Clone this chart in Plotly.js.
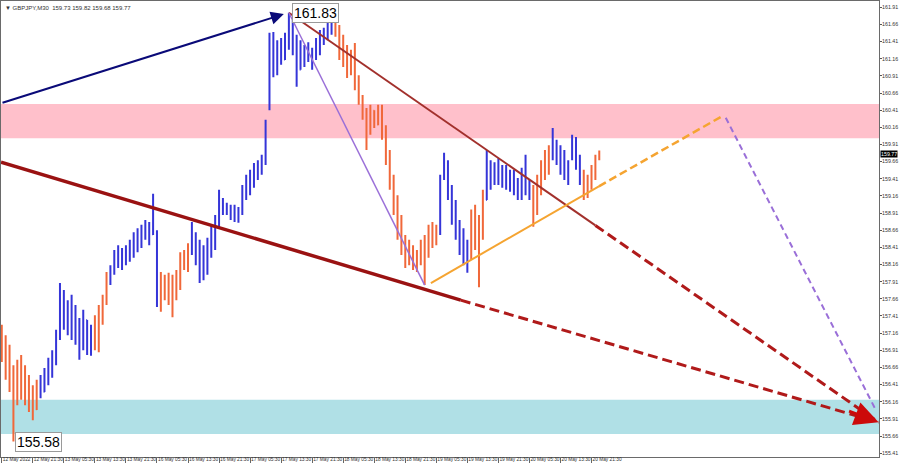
<!DOCTYPE html>
<html>
<head>
<meta charset="utf-8">
<script src="https://cdn.plot.ly/plotly-3.0.1.min.js"></script>
<style>
  html, body { margin: 0; padding: 0; background: #ffffff; }
  #chart { width: 900px; height: 468px; }
</style>
</head>
<body>
<div id="chart"></div>
<script>
// GBPJPY, 30-minute bars, 12 May 2022 - 20 May 2022 (bar index on the x axis)
const symbol = 'GBPJPY,M30';

const open = [
  157.20,156.85,156.62,156.45,156.20,156.55,156.30,156.50,156.15,156.05,
  156.38,156.30,156.58,156.70,156.85,157.10,157.70,157.35,157.55,157.20,
  157.30,156.95,157.35,157.00,157.15,157.00,157.40,157.60,157.95,158.05,
  158.30,158.20,158.35,158.25,158.45,158.55,158.62,158.55,158.75,158.60,
  158.60,157.70,157.90,157.75,157.95,157.70,157.95,158.20,158.15,158.40,
  158.60,158.25,158.00,158.35,158.30,158.65,158.80,159.05,158.95,159.00,
  158.85,158.95,158.92,159.25,159.40,159.30,159.55,159.50,159.70,160.45,
  161.30,161.05,161.35,161.15,161.45,161.60,161.30,161.00,161.30,161.15,
  161.25,161.18,161.40,161.50,161.45,161.62,161.68,161.55,161.25,161.30,
  161.00,161.20,160.80,160.55,160.35,160.10,160.40,160.20,160.42,160.05,
  159.70,159.35,159.00,158.60,158.40,158.20,158.40,158.15,158.30,158.20,
  158.30,158.60,158.50,158.70,159.42,159.60,159.20,158.90,158.65,158.40,
  158.25,158.40,158.80,158.50,158.60,159.10,159.62,159.40,159.55,159.45,
  159.55,159.35,159.45,159.30,159.25,159.50,159.30,159.20,158.92,159.35,
  159.55,159.70,159.80,159.95,159.75,159.60,159.50,159.72,159.95,159.65,
  159.40,159.20,159.40,159.55,159.73
];
const high = [
  157.28,157.13,156.99,156.69,156.77,156.84,156.69,156.55,156.40,156.48,
  156.55,156.65,156.80,156.91,157.21,157.89,157.79,157.64,157.72,157.57,
  157.38,157.50,157.35,157.28,157.42,157.57,157.72,158.05,158.15,158.37,
  158.44,158.40,158.44,158.52,158.63,158.69,158.74,158.81,158.78,159.19,
  158.66,158.05,158.01,158.04,158.01,158.08,158.34,158.37,158.47,158.78,
  158.63,158.52,158.44,158.55,158.74,158.88,159.25,159.13,159.06,159.03,
  159.03,159.00,159.32,159.47,159.54,159.64,159.68,159.76,160.27,161.54,
  161.55,161.43,161.46,161.54,161.83,161.72,161.51,161.43,161.36,161.40,
  161.32,161.46,161.58,161.61,161.68,161.72,161.75,161.65,161.51,161.36,
  161.29,161.39,160.92,160.63,160.44,160.49,160.41,160.49,160.49,160.19,
  159.83,159.47,159.17,158.88,158.59,158.52,158.44,158.37,158.52,158.59,
  158.74,158.78,158.74,159.47,159.79,159.68,159.32,159.10,158.81,158.69,
  158.52,158.96,159.03,158.88,159.25,159.83,159.68,159.65,159.71,159.61,
  159.61,159.54,159.54,159.42,159.57,159.76,159.39,159.32,159.47,159.68,
  159.83,159.90,160.15,159.98,159.90,159.83,159.68,160.05,160.02,159.76,
  159.54,159.47,159.61,159.76,159.82
];
const low = [
  156.74,156.48,156.30,155.58,156.11,156.19,156.11,156.01,155.89,156.04,
  156.21,156.30,156.40,156.51,156.69,157.06,157.21,157.13,157.06,156.99,
  156.77,156.91,156.84,156.83,156.91,156.88,157.28,157.57,157.86,158.01,
  158.11,158.08,158.15,158.20,158.26,158.34,158.40,158.52,158.44,158.59,
  157.54,157.47,157.64,157.57,157.39,157.64,157.79,158.08,158.05,158.30,
  158.15,157.89,157.93,158.01,158.26,158.37,158.69,158.88,158.88,158.81,
  158.78,158.77,158.88,159.10,159.17,159.28,159.39,159.47,159.61,160.41,
  160.89,160.92,161.07,161.14,161.29,161.21,160.75,161.00,161.04,161.11,
  161.00,161.14,161.21,161.36,161.43,161.51,161.48,161.14,161.04,160.88,
  160.92,160.70,160.49,160.27,159.83,160.05,160.15,160.19,159.98,159.61,
  159.25,158.88,158.52,158.30,158.11,158.15,158.08,158.05,158.15,157.86,
  158.26,158.40,158.44,158.59,159.39,159.10,158.74,158.52,158.30,158.15,
  158.04,158.23,158.37,157.83,158.52,159.10,159.25,159.32,159.32,159.28,
  159.25,159.22,159.17,159.10,159.10,159.17,159.10,158.71,158.88,159.17,
  159.39,159.47,159.68,159.61,159.47,159.39,159.32,159.68,159.54,159.32,
  159.10,159.13,159.25,159.39,159.68
];
const close = [
  156.85,156.62,156.45,156.20,156.55,156.30,156.50,156.15,156.05,156.38,
  156.30,156.58,156.70,156.85,157.10,157.70,157.35,157.55,157.20,157.40,
  156.90,157.35,157.00,157.15,157.00,157.40,157.60,157.95,158.05,158.30,
  158.20,158.35,158.25,158.45,158.55,158.62,158.50,158.75,158.60,158.95,
  157.70,157.90,157.75,157.95,157.55,157.95,158.20,158.15,158.40,158.60,
  158.25,158.00,158.35,158.15,158.65,158.80,159.15,158.95,159.00,158.85,
  158.95,158.80,159.25,159.40,159.30,159.55,159.50,159.70,160.20,161.30,
  161.05,161.35,161.15,161.45,161.60,161.30,161.00,161.30,161.10,161.35,
  161.05,161.40,161.50,161.45,161.62,161.68,161.55,161.25,161.40,161.00,
  161.20,160.80,160.55,160.35,160.00,160.40,160.20,160.42,160.05,159.70,
  159.35,159.00,158.60,158.40,158.20,158.40,158.15,158.30,158.20,158.30,
  158.60,158.50,158.70,159.35,159.60,159.20,158.90,158.65,158.40,158.25,
  158.40,158.80,158.50,158.60,159.10,159.70,159.40,159.55,159.45,159.55,
  159.35,159.45,159.30,159.25,159.50,159.30,159.20,158.85,159.35,159.55,
  159.70,159.80,160.00,159.75,159.60,159.50,159.60,159.95,159.65,159.40,
  159.20,159.40,159.55,159.73,159.77
];
// wave direction of each bar: b = rising leg, o = falling leg
const legs = (
  'oooooooooo' + 'bbbbbbbbbb' + 'bbbboooobb' + 'bbbbbbbbbb' + 'boooooooob' +
  'bbbbbbbbbb' + 'bbbbbbbbbb' + 'bbbbbbbbbb' + 'bbbbbboooo' + 'oooooooooo' +
  'oooooooooo' + 'ooobbbbbbb' + 'boooobbbbb' + 'bbbbbbbooo' + 'oobbbbbbbb' +
  'ooooo'
).split('');

// time axis labels (one every 8 bars)
const tickIdx = [0,8,16,24,32,40,48,56,64,72,80,88,96,104,112,120,128,136,144,152];
const tickText = ['12 May 2022','12 May 21:30','13 May 05:30','13 May 13:30','13 May 21:30',
  '16 May 05:30','16 May 13:30','16 May 21:30','17 May 05:30','17 May 13:30','17 May 21:30',
  '18 May 05:30','18 May 13:30','18 May 21:30','19 May 05:30','19 May 13:30','19 May 21:30',
  '20 May 05:30','20 May 13:30','20 May 21:30'];
const priceTicks = [155.41,155.66,155.91,156.16,156.41,156.66,156.91,157.16,157.41,157.66,
  157.91,158.16,158.41,158.66,158.91,159.16,159.41,159.66,159.91,160.16,160.41,160.66,
  160.91,161.16,161.41,161.66,161.91];

// resistance / support zones (price bands)
const sellZone = [160.00, 160.50];
const buyZone = [155.69, 156.19];

// wave lines (bar index, price)
const impulseX = [-0.2, 72.7];      const impulseY = [160.51, 161.81];
const lowerX = [-0.2, 118.3];       const lowerY = [159.65, 157.64];
const lowerFcX = [118.3, 226.0];    const lowerFcY = [157.64, 155.86];
const upperX = [74, 153];           const upperY = [161.83, 158.73];
const upperFcX = [153, 226.0];      const upperFcY = [158.73, 155.86];
const dropX = [74, 109];            const dropY = [161.83, 157.86];
const supportX = [110.6, 153.9];    const supportY = [157.89, 159.30];
const supportFcX = [153.9, 185.3];  const supportFcY = [159.30, 160.31];
const finalFcX = [186.6, 225.0];    const finalFcY = [160.30, 156.07];
const targetTip = [226.0, 155.86];  const targetTail = [218.0, 156.03];

const BLUE = '#3535d8', ORANGE = '#f0683a';

function barsFor(flag, colour) {
  const t = {type: 'ohlc', x: [], open: [], high: [], low: [], close: [],
    increasing: {line: {color: colour, width: 2}},
    decreasing: {line: {color: colour, width: 2}},
    tickwidth: 0.2, hoverinfo: 'skip', showlegend: false};
  legs.forEach((l, i) => {
    if (l !== flag) return;
    t.x.push(i); t.open.push(open[i]); t.high.push(high[i]);
    t.low.push(low[i]); t.close.push(close[i]);
  });
  return t;
}

function line(x, y, colour, width, dash) {
  return {type: 'scatter', mode: 'lines', x: x, y: y, hoverinfo: 'skip', showlegend: false,
    line: {color: colour, width: width, dash: dash || 'solid'}};
}

const traces = [
  barsFor('b', BLUE),
  barsFor('o', ORANGE),
  line(lowerX, lowerY, '#9a1212', 3.5),
  line(lowerFcX, lowerFcY, '#b01a1a', 3, '10px,5px'),
  line(upperX, upperY, '#a2302c', 2),
  line(upperFcX, upperFcY, '#b01a1a', 3, '10px,5px'),
  line(dropX, dropY, '#9a6fd8', 1.5),
  line(supportX, supportY, '#f5a431', 2),
  line(supportFcX, supportFcY, '#f5a431', 2.5, '8px,4px'),
  line(finalFcX, finalFcY, '#9a6fd8', 2, '6px,4px')
];

const n = close.length - 1;
const peakIdx = high.indexOf(Math.max(...high));
const lowIdx = low.indexOf(Math.min(...low));
const boxFont = {family: 'Liberation Sans, Arial, sans-serif', size: 14, color: '#000'};

const layout = {
  width: 900, height: 468,
  margin: {l: 1, r: 21, t: 1, b: 11, pad: 0},
  paper_bgcolor: '#ffffff', plot_bgcolor: '#ffffff',
  showlegend: false, hovermode: false, dragmode: false,
  font: {family: 'Liberation Sans, Arial, sans-serif', size: 6, color: '#222'},
  xaxis: {
    range: [-0.2, 226.1], rangeslider: {visible: false}, automargin: false,
    showgrid: false, zeroline: false, showline: true, mirror: true,
    linecolor: '#6a6a6a', linewidth: 1,
    tickmode: 'array', tickvals: tickIdx, ticktext: tickText, tickangle: 0,
    ticks: 'outside', ticklen: 5, tickcolor: '#666', tickwidth: 1,
    ticklabelposition: 'outside right', ticklabelstandoff: -3,
    tickfont: {size: 4.8, color: '#333'}
  },
  yaxis: {
    range: [155.354, 162.001], side: 'right', automargin: false,
    showgrid: false, zeroline: false, showline: true, mirror: true,
    linecolor: '#6a6a6a', linewidth: 1,
    tickmode: 'array', tickvals: priceTicks, ticktext: priceTicks.map(v => v.toFixed(2)),
    ticks: 'outside', ticklen: 2, tickcolor: '#555', ticklabelstandoff: -1,
    tickfont: {size: 5.3, color: '#333'}
  },
  shapes: [
    {type: 'rect', layer: 'below', xref: 'paper', x0: 0, x1: 1, yref: 'y',
     y0: sellZone[0], y1: sellZone[1], fillcolor: '#ffc0cb', line: {width: 0}},
    {type: 'rect', layer: 'below', xref: 'paper', x0: 0, x1: 1, yref: 'y',
     y0: buyZone[0], y1: buyZone[1], fillcolor: '#b0e0e6', line: {width: 0}}
  ],
  annotations: [
    // impulse arrow into the high
    {x: impulseX[1], y: impulseY[1], ax: impulseX[0], ay: impulseY[0],
     xref: 'x', yref: 'y', axref: 'x', ayref: 'y', text: '', showarrow: true,
     arrowhead: 2, arrowsize: 1.3, arrowwidth: 2, arrowcolor: '#0a0a78', standoff: 0},
    // forecast target arrowhead
    {x: targetTip[0], y: targetTip[1], ax: targetTail[0], ay: targetTail[1],
     xref: 'x', yref: 'y', axref: 'x', ayref: 'y', text: '', showarrow: true,
     arrowhead: 2, arrowsize: 1.6, arrowwidth: 3, arrowcolor: '#cc0a0a', standoff: 0},
    {x: peakIdx + 0.7, y: high[peakIdx], xref: 'x', yref: 'y', xanchor: 'left', yanchor: 'middle',
     text: high[peakIdx].toFixed(2), showarrow: false, font: boxFont,
     bgcolor: '#ffffff', bordercolor: '#9a9a9a', borderwidth: 1, borderpad: 1},
    {x: lowIdx + 0.35, y: low[lowIdx], xref: 'x', yref: 'y', xanchor: 'left', yanchor: 'middle',
     text: low[lowIdx].toFixed(2), showarrow: false, font: boxFont,
     bgcolor: '#ffffff', bordercolor: '#9a9a9a', borderwidth: 1, borderpad: 1},
    // symbol header
    {xref: 'paper', yref: 'paper', x: 0.002, y: 0.995, xanchor: 'left', yanchor: 'top',
     showarrow: false, font: {size: 6, color: '#333'},
     text: '▼ ' + symbol + '  ' + [open[n], high[n], low[n], close[n]].map(v => v.toFixed(2)).join(' ')},
    // last price tag
    {xref: 'paper', yref: 'y', x: 1, y: close[n], xanchor: 'left', yanchor: 'middle', xshift: 1,
     showarrow: false, text: close[n].toFixed(2), font: {size: 5.3, color: '#ffffff'},
     bgcolor: '#000000', borderpad: 0}
  ]
};

Plotly.newPlot('chart', traces, layout, {staticPlot: true, displayModeBar: false});
</script>
</body>
</html>
